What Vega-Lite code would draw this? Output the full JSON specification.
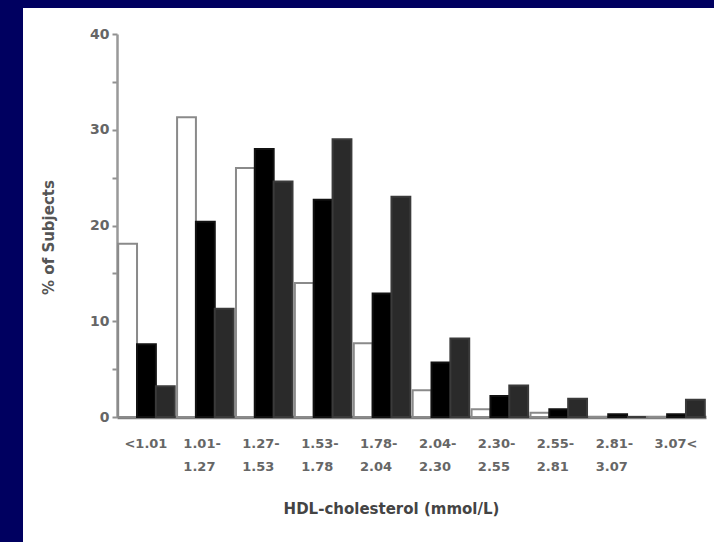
{
  "$schema": "https://vega.github.io/schema/vega-lite/v6.json",
  "autosize": {"type": "none"},
  "width": 691,
  "height": 534,
  "padding": {"left": 23, "top": 8, "right": 0, "bottom": 0},
  "background": "#000060",
  "config": {
    "view": {"fill": "white", "stroke": null},
    "font": "DejaVu Sans"
  },
  "data": {
    "values": [
      {"range": "<1.01", "series": "Series 1", "pct": 18.1},
      {"range": "<1.01", "series": "Series 2", "pct": 7.6},
      {"range": "<1.01", "series": "Series 3", "pct": 3.2},
      {"range": "1.01-1.27", "series": "Series 1", "pct": 31.3},
      {"range": "1.01-1.27", "series": "Series 2", "pct": 20.4},
      {"range": "1.01-1.27", "series": "Series 3", "pct": 11.3},
      {"range": "1.27-1.53", "series": "Series 1", "pct": 26.0},
      {"range": "1.27-1.53", "series": "Series 2", "pct": 28.0},
      {"range": "1.27-1.53", "series": "Series 3", "pct": 24.6},
      {"range": "1.53-1.78", "series": "Series 1", "pct": 14.0},
      {"range": "1.53-1.78", "series": "Series 2", "pct": 22.7},
      {"range": "1.53-1.78", "series": "Series 3", "pct": 29.0},
      {"range": "1.78-2.04", "series": "Series 1", "pct": 7.7},
      {"range": "1.78-2.04", "series": "Series 2", "pct": 12.9},
      {"range": "1.78-2.04", "series": "Series 3", "pct": 23.0},
      {"range": "2.04-2.30", "series": "Series 1", "pct": 2.8},
      {"range": "2.04-2.30", "series": "Series 2", "pct": 5.7},
      {"range": "2.04-2.30", "series": "Series 3", "pct": 8.2},
      {"range": "2.30-2.55", "series": "Series 1", "pct": 0.8},
      {"range": "2.30-2.55", "series": "Series 2", "pct": 2.2},
      {"range": "2.30-2.55", "series": "Series 3", "pct": 3.3},
      {"range": "2.55-2.81", "series": "Series 1", "pct": 0.45},
      {"range": "2.55-2.81", "series": "Series 2", "pct": 0.8},
      {"range": "2.55-2.81", "series": "Series 3", "pct": 1.9},
      {"range": "2.81-3.07", "series": "Series 1", "pct": 0},
      {"range": "2.81-3.07", "series": "Series 2", "pct": 0.3},
      {"range": "2.81-3.07", "series": "Series 3", "pct": 0},
      {"range": "3.07<", "series": "Series 1", "pct": 0},
      {"range": "3.07<", "series": "Series 2", "pct": 0.3},
      {"range": "3.07<", "series": "Series 3", "pct": 1.8}
    ]
  },
  "mark": {"type": "bar", "strokeWidth": 2},
  "encoding": {
    "x": {
      "field": "range",
      "type": "nominal",
      "sort": null,
      "scale": {"range": [94, 683], "paddingInner": 0.04, "paddingOuter": 0.02},
      "axis": {
        "orient": "bottom",
        "offset": -125,
        "title": "HDL-cholesterol (mmol/L)",
        "titleX": 368,
        "titleY": 91,
        "titleBaseline": "middle",
        "titleFontSize": 15,
        "titleFontWeight": "bold",
        "titleColor": "#444",
        "labelAngle": 0,
        "labelExpr": "indexof(datum.label, '-') > 0 ? [substring(datum.label, 0, 5), substring(datum.label, 5)] : datum.label",
        "labelAlign": "left",
        "labelOffset": -22,
        "labelBaseline": "top",
        "labelPadding": 20,
        "labelLineHeight": 23,
        "labelFontSize": 13,
        "labelFontWeight": "bold",
        "labelColor": "#666",
        "ticks": false,
        "domainColor": "#808080",
        "domainWidth": 3.5,
        "grid": false
      }
    },
    "xOffset": {
      "field": "series",
      "type": "nominal",
      "scale": {"paddingInner": 0, "paddingOuter": 0}
    },
    "y": {
      "field": "pct",
      "type": "quantitative",
      "scale": {"domain": [0, 40], "range": [409, 26], "nice": false},
      "axis": {
        "offset": -94,
        "title": "% of Subjects",
        "titleX": -69,
        "titleY": 229,
        "titleAngle": 270,
        "titleBaseline": "middle",
        "titleFontSize": 15,
        "titleFontWeight": "bold",
        "titleColor": "#555",
        "values": [0, 5, 10, 15, 20, 25, 30, 35, 40],
        "labelExpr": "datum.value % 10 === 0 ? datum.label : ''",
        "labelFontSize": 14,
        "labelFontWeight": "bold",
        "labelColor": "#666",
        "labelPadding": 3,
        "tickSize": 5,
        "tickColor": "#909090",
        "tickWidth": 2,
        "domainColor": "#999",
        "domainWidth": 2.5,
        "grid": false
      }
    },
    "fill": {
      "field": "series",
      "type": "nominal",
      "scale": {"range": ["#ffffff", "#000000", "#2a2a2a"]},
      "legend": null
    },
    "stroke": {
      "field": "series",
      "type": "nominal",
      "scale": {"range": ["#8a8a8a", "#111111", "#3a3a3a"]},
      "legend": null
    }
  }
}
